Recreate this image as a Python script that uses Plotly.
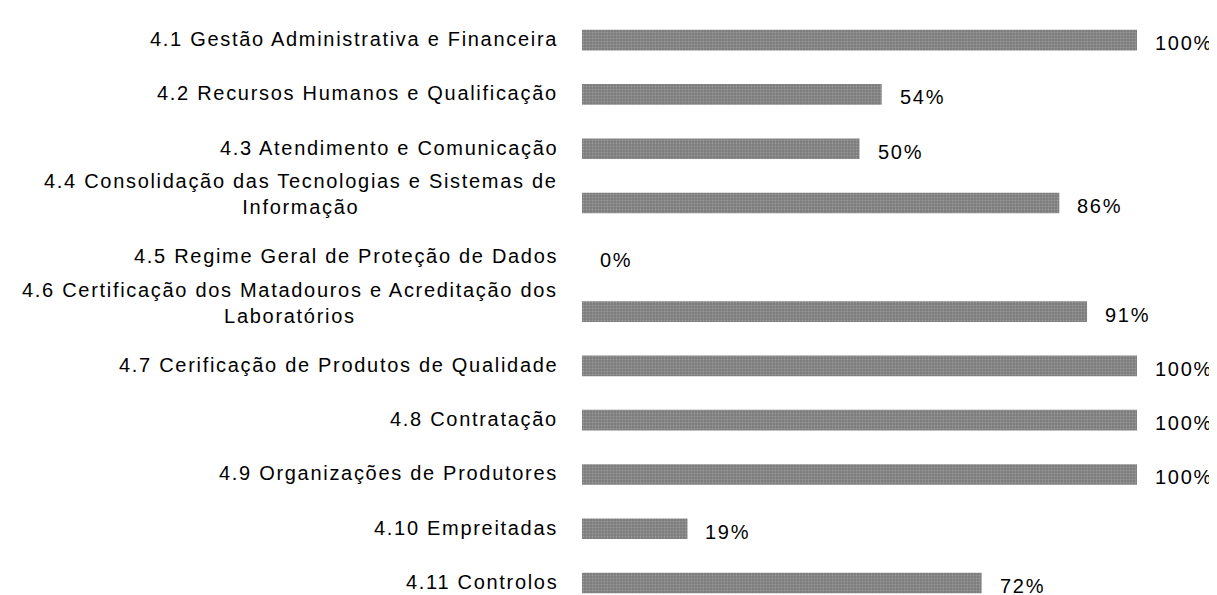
import plotly.graph_objects as go

categories = [
    "4.1 Gestão Administrativa e Financeira",
    "4.2 Recursos Humanos e Qualificação",
    "4.3 Atendimento e Comunicação",
    "4.4 Consolidação das Tecnologias e Sistemas de<br>Informação",
    "4.5 Regime Geral de Proteção de Dados",
    "4.6 Certificação dos Matadouros e Acreditação dos<br>Laboratórios",
    "4.7 Cerificação de Produtos de Qualidade",
    "4.8 Contratação",
    "4.9 Organizações de Produtores",
    "4.10 Empreitadas",
    "4.11 Controlos",
]
values = [100, 54, 50, 86, 0, 91, 100, 100, 100, 19, 72]
value_labels = [f"{v}%" for v in values]

FONT = "Liberation Sans, Arial, sans-serif"
SPACED = '<span style="letter-spacing:1.7px">{}</span>'
positions = list(range(len(categories)))

fig = go.Figure()
fig.add_trace(go.Bar(
    x=values, y=positions, orientation="h",
    width=0.38,
    marker=dict(color="#8a8a8a", line=dict(width=0),
                pattern=dict(shape=".", fgcolor="#b8b8b8", bgcolor="#7c7c7c", size=3, solidity=0.3)),
    hoverinfo="skip",
))

annotations = []
for i, (v, t) in enumerate(zip(values, value_labels)):
    annotations.append(dict(x=v, y=i, xref="x", yref="y", text=SPACED.format(t), showarrow=False,
                            xanchor="left", yanchor="middle", xshift=16, yshift=-3,
                            font=dict(family=FONT, size=20, color="#000")))
for i, c in enumerate(categories):
    multi = "<br>" in c
    text = "<br>".join(SPACED.format(part) for part in c.split("<br>"))
    annotations.append(dict(x=0, y=i, xref="paper", yref="y", text=text, showarrow=False,
                            xanchor="right", yanchor="middle", xshift=-22,
                            yshift=9 if multi else 1, align="center",
                            font=dict(family=FONT, size=20, color="#000")))

fig.update_layout(
    width=1209, height=587,
    margin=dict(l=574, r=0, t=5, b=0),
    paper_bgcolor="white", plot_bgcolor="white",
    showlegend=False,
    annotations=annotations,
    xaxis=dict(range=[0, 635 / 555 * 100], visible=False),
    yaxis=dict(range=[10.22, -0.5], visible=False),
)

fig.write_html("out.html")
